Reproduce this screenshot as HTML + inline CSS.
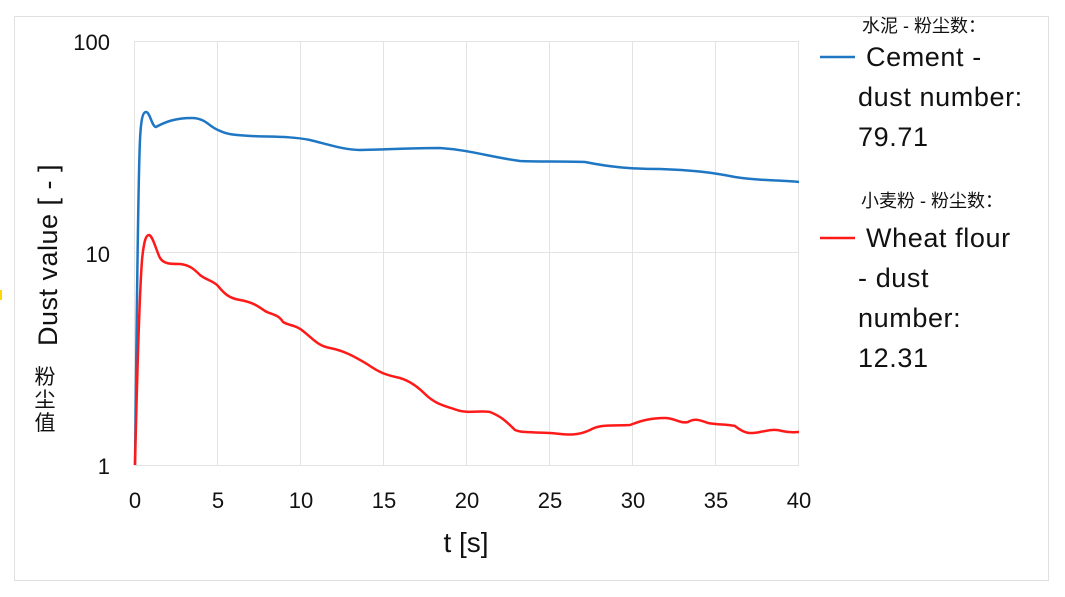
<!DOCTYPE html>
<html><head><meta charset="utf-8"><style>
body{margin:0;background:#fff;}
svg{display:block;font-family:"Liberation Sans","Noto Sans CJK SC",sans-serif;}
</style></head><body>
<svg width="1065" height="597" viewBox="0 0 1065 597">
<rect x="0" y="0" width="1065" height="597" fill="#fff"/>
<rect x="14.5" y="16.5" width="1034" height="564" fill="none" stroke="#e0e0e0" stroke-width="1"/>
<rect x="0" y="290" width="2" height="10" fill="#ffd800"/>
<g stroke="#e3e3e3" stroke-width="1">
<line x1="134" y1="41.5" x2="799" y2="41.5"/>
<line x1="134" y1="252.5" x2="799" y2="252.5"/>
<line x1="134" y1="465.5" x2="799" y2="465.5"/>
<line x1="217.5" y1="41" x2="217.5" y2="465"/>
<line x1="300.5" y1="41" x2="300.5" y2="465"/>
<line x1="383.5" y1="41" x2="383.5" y2="465"/>
<line x1="466.5" y1="41" x2="466.5" y2="465"/>
<line x1="549.5" y1="41" x2="549.5" y2="465"/>
<line x1="632.5" y1="41" x2="632.5" y2="465"/>
<line x1="715.5" y1="41" x2="715.5" y2="465"/>
<line x1="798.5" y1="41" x2="798.5" y2="465"/>
<line x1="134.5" y1="41" x2="134.5" y2="465"/>
</g>
<g font-size="22" fill="#111" text-anchor="end">
<text x="110" y="50">100</text>
<text x="110" y="262">10</text>
<text x="110" y="474">1</text>
</g>
<g font-size="22" fill="#111" text-anchor="middle">
<text x="135" y="508">0</text><text x="218" y="508">5</text><text x="301" y="508">10</text><text x="384" y="508">15</text><text x="467" y="508">20</text><text x="550" y="508">25</text><text x="633" y="508">30</text><text x="716" y="508">35</text><text x="799" y="508">40</text>
</g>
<text x="466" y="552" font-size="28" text-anchor="middle" fill="#111">t [s]</text>
<text transform="translate(57,255) rotate(-90)" font-size="27" letter-spacing="0.5" text-anchor="middle" fill="#111">Dust value [ - ]</text>
<g font-size="21" fill="#111" text-anchor="middle">
<text x="45" y="384">粉</text><text x="45" y="407">尘</text><text x="45" y="430">值</text>
</g>
<path fill="none" stroke="#1f77c4" stroke-width="2.5" stroke-linejoin="round" d="M135,465 C137,300 138,180 140,140 C141,118 143,112 146,112 C150,112 152,127 156,127 C165,122 175,118 192,118 C205,118 210,127 218,130 C228,135 235,135 251,136 C270,137 290,136 310,140 C330,145 345,150 360,150 C380,150 400,148 440,148 C470,150 490,157 520,161 C540,162 560,161 585,162 C610,167 630,169 660,169 C690,170 710,172 735,177 C760,181 780,180 799,182"/>
<path fill="none" stroke="#ff1a1a" stroke-width="2.5" stroke-linejoin="round" d="M135,465 C137,380 139,300 142,260 C144,240 146,235 149,235 C153,236 156,250 160,258 C164,264 170,264 180,264 C190,265 195,270 200,275 C206,280 214,281 218,286 C224,293 228,298 240,300 C252,302 258,306 265,311 C272,315 278,314 283,322 C290,326 296,325 303,331 C312,338 318,346 330,348 C345,351 355,357 367,364 C380,373 386,375 400,378 C410,381 418,387 425,394 C435,404 445,406 457,410 C468,414 480,410 490,412 C500,416 505,420 515,430 C522,433 532,432 550,433 C565,434 575,437 590,430 C600,424 610,426 630,425 C640,421 650,418 665,418 C675,418 680,424 688,422 C695,418 700,420 708,423 C720,425 725,424 735,426 C745,434 750,434 760,432 C770,430 775,429 782,431 C790,433 795,432 799,432"/>
<line x1="820" y1="57" x2="855" y2="57" stroke="#1f77c4" stroke-width="2.5"/>
<line x1="820" y1="238" x2="855" y2="238" stroke="#ff1a1a" stroke-width="2.5"/>
<g font-size="18" fill="#111">
<text x="862" y="32">水泥 - 粉尘数：</text>
<text x="861" y="207">小麦粉 - 粉尘数：</text>
</g>
<g font-size="27" fill="#111" letter-spacing="0.6">
<text x="866" y="66">Cement -</text>
<text x="858" y="106">dust number:</text>
<text x="858" y="146">79.71</text>
<text x="866" y="247">Wheat flour</text>
<text x="858" y="287">- dust</text>
<text x="858" y="327">number:</text>
<text x="858" y="367">12.31</text>
</g>
</svg>
</body></html>
